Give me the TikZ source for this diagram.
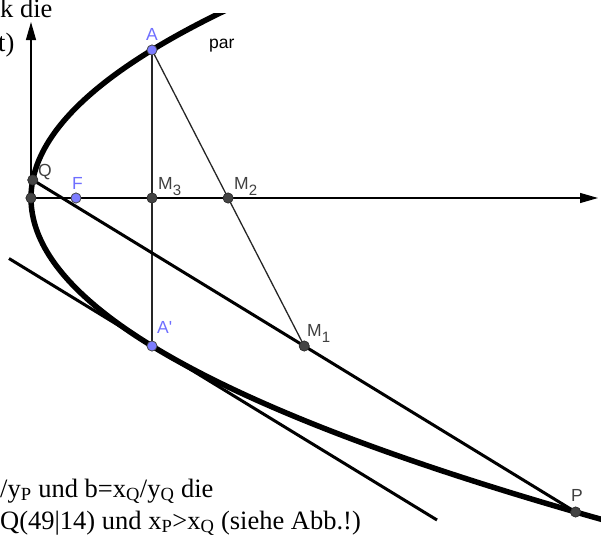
\documentclass[tikz,border=0pt]{standalone}
\usepackage{fontspec}
\setmainfont{Liberation Serif}
\newfontfamily\labfont{Liberation Sans}
\usetikzlibrary{arrows.meta}
\definecolor{ptgrey}{HTML}{444444}
\definecolor{ptblue}{HTML}{7D7DFF}
\definecolor{labblue}{HTML}{6F6FFF}
\definecolor{labgrey}{HTML}{404040}
\newcommand\msub[1]{\raisebox{-6pt}{\fontsize{15pt}{15pt}\selectfont #1}}
\tikzset{
  axisline/.style={line width=1.2pt, black, -{Triangle[length=18pt,width=10pt]}},
  thinline/.style={line width=1.3pt, black!85},
  thickline/.style={line width=3pt, black},
  parab/.style={line width=5.5pt, black},
  dpt/.style={circle, inner sep=0pt, minimum size=10pt, fill=ptgrey, draw=black!80, line width=0.7pt},
  bpt/.style={circle, inner sep=0pt, minimum size=10pt, fill=ptblue, draw=black!70, line width=0.7pt},
  glab/.style={font=\labfont\fontsize{17.5pt}{17.5pt}\selectfont, text=labgrey, anchor=base west, inner sep=0pt},
  blab/.style={font=\labfont\fontsize{17.5pt}{17.5pt}\selectfont, text=labblue, anchor=base west, inner sep=0pt},
  doc/.style={font=\fontsize{26.5pt}{30pt}\selectfont, anchor=base west, inner sep=0pt}
}
\begin{document}
\begin{tikzpicture}[x=1pt,y=-1pt]
\useasboundingbox (0,0) rectangle (601,538);
% coordinates
\coordinate (O) at (31,198);
\coordinate (VT) at (31,22);
\coordinate (HE) at (598,198);
\coordinate (T1) at (9,258.5);
\coordinate (T2) at (437,520);
% points (nodes)
\node[dpt] (V) at (31,198) {};
\node[dpt] (Q) at (32.8,180) {};
\node[bpt] (F) at (76,198) {};
\node[bpt] (A) at (152,50) {};
\node[dpt] (M3) at (152,198) {};
\node[dpt] (M2) at (228.1,198) {};
\node[bpt] (Ap) at (152,346) {};
\node[dpt] (M1) at (304.2,346) {};
\node[dpt] (P) at (575.6,512) {};
% axes
\draw[axisline] (O) -- (VT);
\draw[axisline] (O) -- (HE);
% thin lines
\draw[thinline] (A.center) -- (Ap.center);
\draw[thinline] (A.center) -- (M1.center);
% thick lines
\draw[thickline] (Q.center) -- (P.center);
\draw[thickline] (T1) -- (T2);
% parabola
\begin{scope}
\clip (0,13) rectangle (601,538);
\draw[parab] plot[domain=-1.9:3.6, samples=150, smooth] ({31+55.24*\x*\x}, {198+100*\x});
\end{scope}
% redraw points on top
\node[dpt] at (V) {};
\node[dpt] at (Q) {};
\node[bpt] at (F) {};
\node[bpt] at (A) {};
\node[dpt] at (M3) {};
\node[dpt] at (M2) {};
\node[bpt] at (Ap) {};
\node[dpt] at (M1) {};
\node[dpt] at (P) {};
% labels
\node[blab] (lA) at (146,40) {A};
\node[anchor=base west, inner sep=0pt, font=\labfont\fontsize{17.5pt}{17.5pt}\selectfont] (lpar) at (209,48) {par};
\node[glab] (lQ) at (38,176) {Q};
\node[blab] (lF) at (72,189) {F};
\node[glab] (lM3) at (158,189) {M\msub{3}};
\node[glab] (lM2) at (234,189) {M\msub{2}};
\node[blab] (lAp) at (157,333) {A'};
\node[glab] (lM1) at (307,336) {M\msub{1}};
\node[glab] (lP) at (571,501) {P};
% document text
\node[doc] (t1) at (0,17) {k die};
\node[doc] (t2) at (-2,51) {t)};
\node[doc] (t3) at (0,497) {/y\textsubscript{P} und b=x\textsubscript{Q}/y\textsubscript{Q} die};
\node[doc] (t4) at (0,529) {Q(49|14) und x\textsubscript{P}>x\textsubscript{Q} (siehe Abb.!)};
\end{tikzpicture}
\end{document}
